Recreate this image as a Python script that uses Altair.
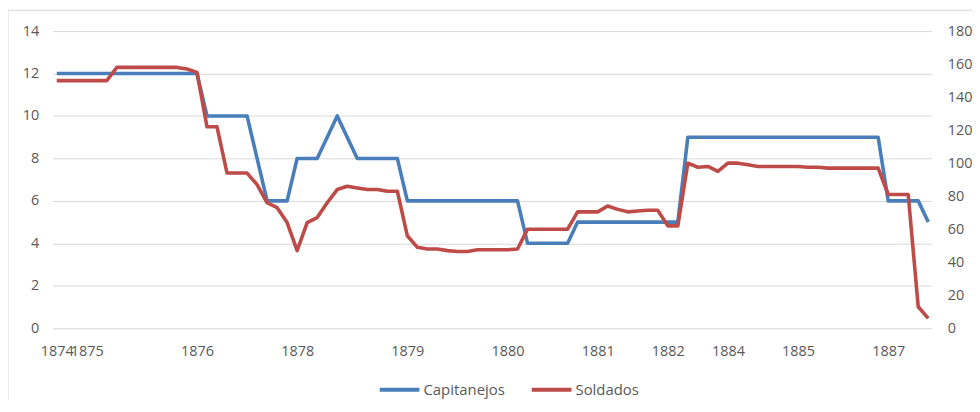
import altair as alt
import pandas as pd

# Capitanejos (left axis) and Soldados (right axis), one value per category point
capitanejos = [
    12, 12, 12, 12, 12, 12, 12, 12, 12, 12, 12, 12, 12, 12, 12,
    10, 10, 10, 10, 10, 8, 6, 6, 6, 8, 8, 8, 9, 10, 9,
    8, 8, 8, 8, 8, 6, 6, 6, 6, 6, 6, 6, 6, 6, 6,
    6, 6, 4, 4, 4, 4, 4, 5, 5, 5, 5, 5, 5, 5, 5,
    5, 5, 5, 9, 9, 9, 9, 9, 9, 9, 9, 9, 9, 9, 9,
    9, 9, 9, 9, 9, 9, 9, 9, 6, 6, 6, 6, 5,
]
soldados = [
    150, 150, 150, 150, 150, 150, 158, 158, 158, 158, 158, 158, 158, 157, 155,
    122, 122, 94, 94, 94, 87, 76, 73, 64, 47, 64, 67, 76, 84, 86,
    85, 84, 84, 83, 83, 56, 49, 48, 48, 47, 46.5, 46.5, 47.5, 47.5, 47.5,
    47.5, 48, 60, 60, 60, 60, 60, 70.5, 70.5, 70.5, 74, 72, 70.5, 71, 71.5,
    71.5, 62, 62, 100, 97.5, 98, 95, 100, 100, 99, 98, 98, 98, 98, 98,
    97.5, 97.5, 97, 97, 97, 97, 97, 97, 81, 81, 81, 13, 6,
]
series_names = ["Capitanejos", "Soldados"]
tick_pos = [0, 3, 14, 24, 35, 45, 54, 61, 67, 74, 83]
tick_year = ["1874", "1875", "1876", "1878", "1879", "1880", "1881", "1882", "1884", "1885", "1887"]
left_ticks = [0, 2, 4, 6, 8, 10, 12, 14]
right_ticks = [0, 20, 40, 60, 80, 100, 120, 140, 160, 180]

BLUE = "#4A7EBB"
RED = "#BE4B48"
TXT = "#595959"
GRID = "#D9D9D9"
FONT = "Open Sans"

n = len(capitanejos)
assert n == len(soldados) == 88
df = pd.DataFrame({
    "i": list(range(n)) * 2,
    "value": capitanejos + soldados,
    "series": [series_names[0]] * n + [series_names[1]] * n,
})

label_expr = ""
for p, y in zip(tick_pos, tick_year):
    label_expr += f"datum.value == {p} ? '{y}' : "
label_expr += "''"

x_enc = alt.X(
    "i:Q",
    scale=alt.Scale(domain=[-0.4, 87.3], nice=False, zero=False),
    axis=alt.Axis(values=tick_pos, labelExpr=label_expr, grid=False, ticks=False,
                  domain=False, labelOverlap=False, labelFlush=False, labelPadding=16,
                  title=None, labelFontSize=14.5, labelColor=TXT, labelFont=FONT),
)

color_enc = alt.Color(
    "series:N",
    scale=alt.Scale(domain=series_names, range=[BLUE, RED]),
    legend=alt.Legend(orient="none", legendX=327, legendY=339, direction="horizontal",
                      title=None, symbolType="stroke", symbolSize=1600,
                      symbolStrokeWidth=4, labelFontSize=15, labelFont=FONT,
                      labelColor=TXT, labelOffset=2, columnPadding=18, padding=0),
)

border = alt.Chart(pd.DataFrame({"k": [0]})).mark_rect(
    fillOpacity=0, stroke=GRID, strokeWidth=1
).encode(x=alt.value(-45), x2=alt.value(3000), y=alt.value(-21), y2=alt.value(3000))

blue = alt.Chart(df).transform_filter(
    alt.datum.series == series_names[0]
).mark_line(strokeWidth=3.6, strokeJoin="round").encode(
    x=x_enc,
    y=alt.Y("value:Q", scale=alt.Scale(domain=[0, 14], nice=False),
            axis=alt.Axis(values=left_ticks, orient="left", grid=True, gridColor=GRID,
                          ticks=False, domain=False, title=None, labelPadding=14,
                          labelFontSize=14.5, labelColor=TXT, labelFont=FONT)),
    color=color_enc,
)

red = alt.Chart(df).transform_filter(
    alt.datum.series == series_names[1]
).mark_line(strokeWidth=3.6, strokeJoin="round").encode(
    x=x_enc,
    y=alt.Y("value:Q", scale=alt.Scale(domain=[0, 180], nice=False),
            axis=alt.Axis(values=right_ticks, orient="right", grid=False,
                          ticks=False, domain=False, title=None, labelPadding=16,
                          labelFontSize=14.5, labelColor=TXT, labelFont=FONT)),
    color=color_enc,
)

chart = alt.layer(border, blue, red).resolve_scale(y="independent").properties(
    width=884,
    height=299,
    autosize=alt.AutoSizeParams(type="none"),
    padding={"left": 45, "top": 22, "right": 41, "bottom": 71},
    background="white",
).configure_view(stroke=None)

chart.save("out.html", embed_options={"renderer": "svg", "actions": False})
